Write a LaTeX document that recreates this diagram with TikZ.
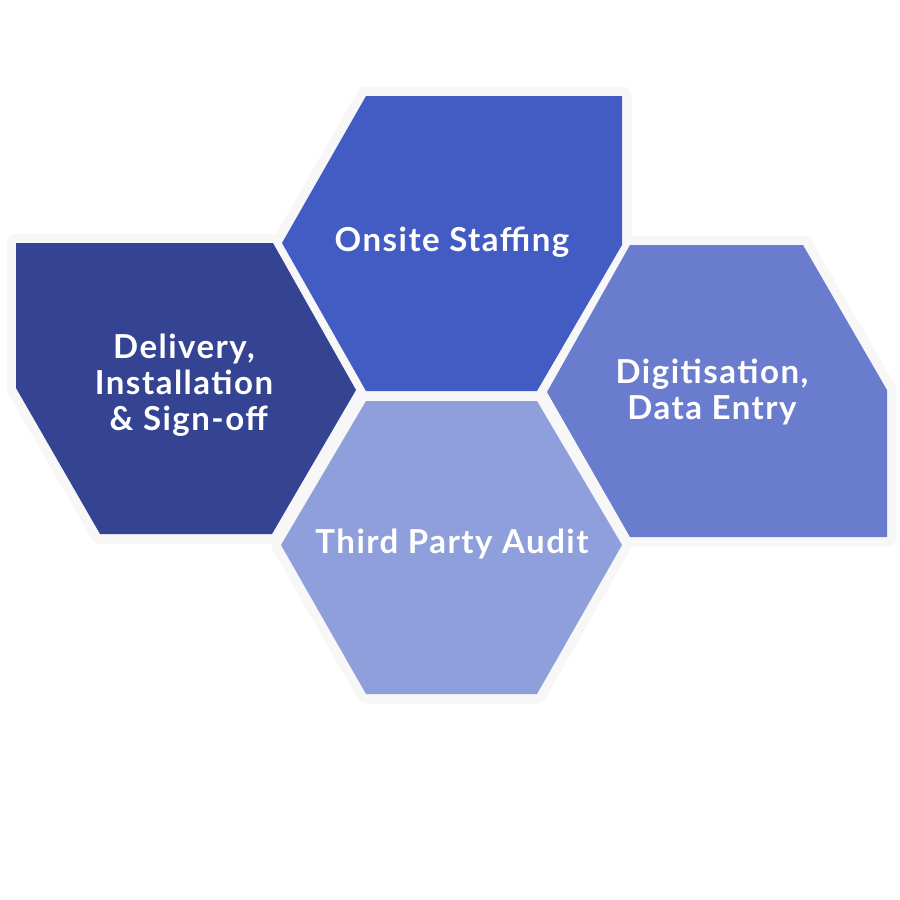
\documentclass[tikz,border=0pt]{standalone}
\usepackage{fontspec}
\setmainfont{Lato}[LetterSpace=4.5]
\definecolor{rimgray}{RGB}{247,247,247}
\definecolor{deliv}{RGB}{52,68,146}
\definecolor{onsite}{RGB}{67,92,196}
\definecolor{digit}{RGB}{106,124,206}
\definecolor{audit}{RGB}{142,159,220}
\newcommand\delivpath{(16,243) -- (273,243) -- (356,390) -- (272,534) -- (100,534) -- (16,388) -- cycle}
\newcommand\onsitepath{(366,96) -- (622,96) -- (622,245) -- (537,391) -- (366,391) -- (282,243) -- cycle}
\newcommand\digitpath{(630,245) -- (803,245) -- (887,390) -- (887,537) -- (630,537) -- (547,392) -- cycle}
\newcommand\auditpath{(366,401) -- (537,401) -- (622,545) -- (537,694) -- (366,694) -- (281,545) -- cycle}
\begin{document}
\begin{tikzpicture}[x=1pt,y=-1pt]
    \tikzstyle{rim}=[draw=rimgray,line width=19pt,line join=round]
    \tikzstyle{hextext}=[text=white,align=center,font=\fontsize{33}{36}\selectfont\bfseries]
    \useasboundingbox[fill=white] (0,0) rectangle (900,900);
    % light rims first, so the fills sit on top
    \draw [rim] \delivpath;
    \draw [rim] \onsitepath;
    \draw [rim] \digitpath;
    \draw [rim] \auditpath;
    \fill [deliv]  \delivpath;
    \fill [onsite] \onsitepath;
    \fill [digit]  \digitpath;
    \fill [audit]  \auditpath;
    \node (delivery) [hextext] at (184,385) {Delivery,\\Installation\\\ \& Sign-off};
    \node (staffing) [hextext] at (452,242) {Onsite Staffing};
    \node (digitise) [hextext] at (712,392) {Digitisation,\\Data Entry};
    \node (audit3p)  [hextext] at (452,544) {Third Party Audit};
\end{tikzpicture}
\end{document}
